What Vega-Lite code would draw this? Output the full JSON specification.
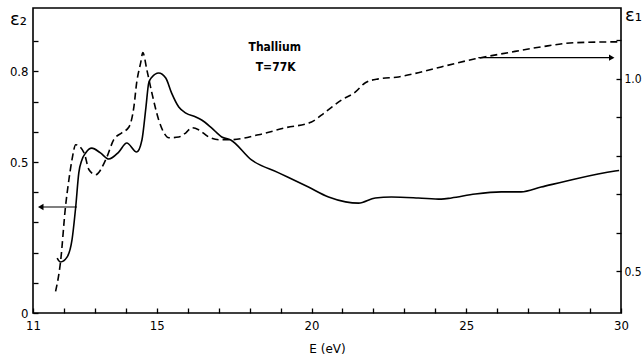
{
  "$schema": "https://vega.github.io/schema/vega-lite/v6.json",
  "width": 588,
  "height": 305,
  "autosize": {"type": "none"},
  "padding": {"left": 33, "top": 8, "right": 22, "bottom": 47},
  "background": "white",
  "config": {
    "view": {"stroke": "black", "strokeWidth": 1.6},
    "axis": {
      "domain": false, "tickColor": "black", "tickWidth": 1.3, "tickSize": 5, "offset": -5, "ticks": true,
      "labelOverlap": false, "labelFlush": false, "labelBound": false, "zindex": 1,
      "grid": false, "labelFont": "DejaVu Sans Condensed, DejaVu Sans", "labelFontSize": 13, "labelColor": "black",
      "titleFont": "DejaVu Sans", "titleColor": "black", "titleFontWeight": "normal"
    }
  },
  "datasets": {
    "eps2": [
      {"E": 11.78, "v": 0.182}, {"E": 11.89, "v": 0.169}, {"E": 12.10, "v": 0.185},
      {"E": 12.26, "v": 0.242}, {"E": 12.38, "v": 0.351}, {"E": 12.48, "v": 0.464},
      {"E": 12.58, "v": 0.507}, {"E": 12.70, "v": 0.530}, {"E": 12.90, "v": 0.546},
      {"E": 13.18, "v": 0.530}, {"E": 13.45, "v": 0.510}, {"E": 13.77, "v": 0.533},
      {"E": 14.03, "v": 0.563}, {"E": 14.35, "v": 0.533}, {"E": 14.52, "v": 0.573},
      {"E": 14.65, "v": 0.682}, {"E": 14.74, "v": 0.762}, {"E": 14.84, "v": 0.781},
      {"E": 15.06, "v": 0.795}, {"E": 15.29, "v": 0.778}, {"E": 15.48, "v": 0.728},
      {"E": 15.71, "v": 0.682}, {"E": 15.94, "v": 0.662}, {"E": 16.26, "v": 0.649},
      {"E": 16.45, "v": 0.639}, {"E": 16.77, "v": 0.613}, {"E": 17.10, "v": 0.583},
      {"E": 17.39, "v": 0.573}, {"E": 18.06, "v": 0.507}, {"E": 18.94, "v": 0.464},
      {"E": 19.90, "v": 0.417}, {"E": 20.55, "v": 0.384}, {"E": 21.10, "v": 0.368},
      {"E": 21.52, "v": 0.364}, {"E": 22.06, "v": 0.381}, {"E": 22.58, "v": 0.384},
      {"E": 23.45, "v": 0.381}, {"E": 24.19, "v": 0.377}, {"E": 24.52, "v": 0.381},
      {"E": 25.29, "v": 0.394}, {"E": 26.13, "v": 0.401}, {"E": 26.77, "v": 0.401},
      {"E": 27.42, "v": 0.417}, {"E": 28.52, "v": 0.444}, {"E": 29.81, "v": 0.470},
      {"E": 29.94, "v": 0.472}
    ],
    "eps1": [
      {"E": 11.73, "v": 0.448}, {"E": 11.89, "v": 0.525}, {"E": 12.05, "v": 0.668},
      {"E": 12.16, "v": 0.738}, {"E": 12.26, "v": 0.790}, {"E": 12.38, "v": 0.829},
      {"E": 12.65, "v": 0.808}, {"E": 12.81, "v": 0.764}, {"E": 13.02, "v": 0.751},
      {"E": 13.35, "v": 0.790}, {"E": 13.61, "v": 0.842}, {"E": 13.87, "v": 0.860},
      {"E": 14.10, "v": 0.875}, {"E": 14.26, "v": 0.927}, {"E": 14.35, "v": 0.990},
      {"E": 14.48, "v": 1.042}, {"E": 14.55, "v": 1.068}, {"E": 14.68, "v": 1.023},
      {"E": 14.84, "v": 0.964}, {"E": 15.06, "v": 0.894}, {"E": 15.23, "v": 0.860},
      {"E": 15.39, "v": 0.847}, {"E": 15.71, "v": 0.849}, {"E": 15.94, "v": 0.860},
      {"E": 16.13, "v": 0.873}, {"E": 16.35, "v": 0.868}, {"E": 16.68, "v": 0.849},
      {"E": 17.00, "v": 0.842}, {"E": 17.39, "v": 0.842}, {"E": 18.29, "v": 0.855},
      {"E": 19.16, "v": 0.873}, {"E": 20.00, "v": 0.888}, {"E": 20.45, "v": 0.914},
      {"E": 20.97, "v": 0.945}, {"E": 21.42, "v": 0.966}, {"E": 21.74, "v": 0.990},
      {"E": 22.16, "v": 1.000}, {"E": 22.81, "v": 1.005}, {"E": 23.45, "v": 1.016},
      {"E": 24.19, "v": 1.031}, {"E": 25.29, "v": 1.052}, {"E": 26.35, "v": 1.068},
      {"E": 27.42, "v": 1.083}, {"E": 28.52, "v": 1.094}, {"E": 29.81, "v": 1.096},
      {"E": 29.94, "v": 1.096}
    ],
    "leftArrow": [{"E": 12.42, "E2": 11.3, "v": 0.351}],
    "leftTip": [{"E": 11.25, "v": 0.351}],
    "rightArrow": [{"E": 25.39, "E2": 29.65, "v": 1.055}],
    "rightTip": [{"E": 29.7, "v": 1.055}],
    "notes": [
      {"E": 18.81, "v": 0.881, "label": "Thallium"},
      {"E": 18.84, "v": 0.815, "label": "T=77K"}
    ]
  },
  "layer": [
    {
      "data": {"name": "eps2"},
      "mark": {"type": "line", "color": "black", "strokeWidth": 1.6, "interpolate": "monotone"},
      "encoding": {
        "x": {"field": "E", "type": "quantitative", "scale": {"domain": [11, 30], "nice": false, "zero": false},
          "axis": {"orient": "bottom", "values": [11,12,13,14,15,16,17,18,19,20,21,22,23,24,25,26,27,28,29,30],
            "labelExpr": "(datum.value == 11 || datum.value == 15 || datum.value == 20 || datum.value == 25 || datum.value == 30) ? datum.label : ''",
            "ticks": true, "tickSize": 5, "tickColor": "black", "offset": -5, "domain": false,
            "labelOverlap": false, "labelFlush": false,
            "labelPadding": 6, "title": "E (eV)", "titleFontSize": 12, "titlePadding": 11}},
        "y": {"field": "v", "type": "quantitative", "scale": {"domain": [0, 1.01], "nice": false},
          "axis": {"orient": "left", "values": [0,0.1,0.2,0.3,0.4,0.5,0.6,0.7,0.8,0.9],
            "labelExpr": "datum.value == 0 ? '0' : (datum.value == 0.5 ? '0.5' : (datum.value == 0.8 ? '0.8' : ''))",
            "ticks": true, "tickSize": 5, "tickColor": "black", "offset": -5, "domain": false,
            "labelOverlap": false, "labelFlush": false,
            "labelPadding": 5, "title": "ε₂", "titleAngle": 0, "titleFontSize": 18,
            "titleX": -20, "titleY": 11, "titleAlign": "center", "titleBaseline": "middle"}}
      }
    },
    {
      "data": {"name": "eps1"},
      "mark": {"type": "line", "color": "black", "strokeWidth": 1.6, "strokeDash": [7, 4], "interpolate": "monotone"},
      "encoding": {
        "x": {"field": "E", "type": "quantitative", "scale": {"domain": [11, 30], "nice": false, "zero": false}, "axis": null},
        "y": {"field": "v", "type": "quantitative", "scale": {"domain": [0.392, 1.184], "nice": false, "zero": false},
          "axis": {"orient": "right", "values": [0.5,0.6,0.7,0.8,0.9,1.0,1.1],
            "labelExpr": "datum.value == 0.5 ? '0.5' : (datum.value == 1 ? '1.0' : '')",
            "ticks": true, "tickSize": 5, "tickColor": "black", "offset": -5, "domain": false,
            "labelOverlap": false, "labelFlush": false,
            "labelPadding": 3, "labelFontSize": 12, "title": "ε₁", "titleAngle": 0, "titleFontSize": 18,
            "titleX": 17, "titleY": 7, "titleAlign": "center", "titleBaseline": "middle"}}
      }
    },
    {
      "data": {"name": "leftArrow"},
      "mark": {"type": "rule", "color": "black", "strokeWidth": 1.2},
      "encoding": {
        "x": {"field": "E", "type": "quantitative", "scale": {"domain": [11, 30], "nice": false, "zero": false}, "axis": null},
        "x2": {"field": "E2"},
        "y": {"field": "v", "type": "quantitative", "scale": {"domain": [0, 1.01], "nice": false}, "axis": null}
      }
    },
    {
      "data": {"name": "leftTip"},
      "mark": {"type": "point", "shape": "triangle-left", "filled": true, "color": "black", "size": 40, "opacity": 1},
      "encoding": {
        "x": {"field": "E", "type": "quantitative", "scale": {"domain": [11, 30], "nice": false, "zero": false}, "axis": null},
        "y": {"field": "v", "type": "quantitative", "scale": {"domain": [0, 1.01], "nice": false}, "axis": null}
      }
    },
    {
      "data": {"name": "notes"},
      "mark": {"type": "text", "font": "DejaVu Sans Condensed, DejaVu Sans", "fontSize": 12, "fontWeight": "bold", "color": "black"},
      "encoding": {
        "x": {"field": "E", "type": "quantitative", "scale": {"domain": [11, 30], "nice": false, "zero": false}, "axis": null},
        "y": {"field": "v", "type": "quantitative", "scale": {"domain": [0, 1.01], "nice": false}, "axis": null},
        "text": {"field": "label"}
      }
    },
    {
      "data": {"name": "rightArrow"},
      "mark": {"type": "rule", "color": "black", "strokeWidth": 1.2},
      "encoding": {
        "x": {"field": "E", "type": "quantitative", "scale": {"domain": [11, 30], "nice": false, "zero": false}, "axis": null},
        "x2": {"field": "E2"},
        "y": {"field": "v", "type": "quantitative", "scale": {"domain": [0.392, 1.184], "nice": false, "zero": false}, "axis": null}
      }
    },
    {
      "data": {"name": "rightTip"},
      "mark": {"type": "point", "shape": "triangle-right", "filled": true, "color": "black", "size": 40, "opacity": 1},
      "encoding": {
        "x": {"field": "E", "type": "quantitative", "scale": {"domain": [11, 30], "nice": false, "zero": false}, "axis": null},
        "y": {"field": "v", "type": "quantitative", "scale": {"domain": [0.392, 1.184], "nice": false, "zero": false}, "axis": null}
      }
    }
  ],
  "resolve": {"scale": {"x": "independent", "y": "independent"}, "axis": {"x": "independent", "y": "independent"}}
}
